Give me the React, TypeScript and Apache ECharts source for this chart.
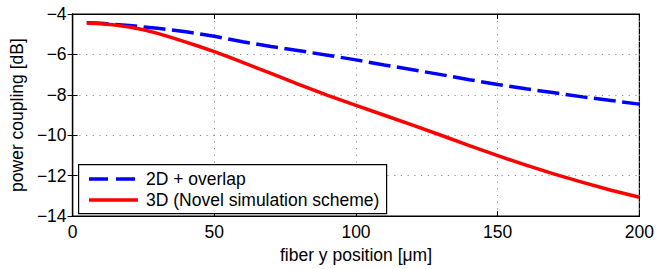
import React, { useEffect, useRef } from "react";
import * as echarts from "echarts";

const xValues2D = [5, 10, 20, 30, 40, 50, 60, 70, 80, 90, 100, 110, 120, 130, 140, 150, 160, 170, 180, 190, 200];
const series2D = [-4.43, -4.46, -4.57, -4.71, -4.88, -5.1, -5.37, -5.61, -5.82, -6.04, -6.27, -6.52, -6.76, -7.0, -7.25, -7.49, -7.7, -7.9, -8.1, -8.28, -8.46];
const xValues3D = [5, 10, 15, 20, 25, 30, 35, 40, 45, 50, 55, 60, 70, 80, 90, 100, 110, 120, 130, 140, 150, 160, 170, 180, 190, 200];
const series3D = [-4.45, -4.48, -4.55, -4.64, -4.78, -4.96, -5.17, -5.39, -5.62, -5.86, -6.12, -6.39, -6.94, -7.5, -8.03, -8.52, -9.01, -9.5, -10.0, -10.51, -11.01, -11.48, -11.92, -12.33, -12.72, -13.07];
const legendNames = ["2D + overlap", "3D (Novel simulation scheme)"];
const xTitle = "fiber y position [\u03bcm]";
const yTitle = "power coupling [dB]";

const FONT = "'Liberation Sans', Arial, Helvetica, sans-serif";
const FS = 17.5;

export default function App() {
  const ref = useRef<HTMLDivElement>(null);
  useEffect(() => {
    if (!ref.current) return;
    const chart = echarts.init(ref.current, null, { renderer: "svg" });
    const minus = (v: number) => String(v).replace("-", "\u2212");
    const gridLine = { show: true, lineStyle: { color: "#8a8a8a", width: 1, type: [1.2, 5.5] } };
    const tick = { show: true, inside: true, length: 5, lineStyle: { color: "#000", width: 1 } };
    const axisLine = { show: true, lineStyle: { color: "#000", width: 1.2 } };
    chart.setOption({
      animation: false,
      backgroundColor: "#fff",
      textStyle: { fontFamily: FONT },
      grid: { left: 69, right: 14, top: 14, bottom: 47, show: true, borderColor: "#000", borderWidth: 1.2 },
      xAxis: [
        {
          type: "value", min: 0, max: 200, interval: 50, position: "bottom",
          axisLine, axisTick: tick, splitLine: gridLine,
          axisLabel: { color: "#000", fontSize: FS, fontFamily: FONT, margin: 7 },
          name: xTitle, nameLocation: "middle", nameGap: 28,
          nameTextStyle: { color: "#000", fontSize: FS, fontFamily: FONT },
        },
        {
          type: "value", min: 0, max: 200, interval: 50, position: "top",
          axisLine, axisTick: tick, splitLine: { show: false }, axisLabel: { show: false },
        },
      ],
      yAxis: [
        {
          type: "value", min: -14, max: -4, interval: 2, position: "left",
          axisLine, axisTick: tick, splitLine: gridLine,
          axisLabel: { color: "#000", fontSize: FS, fontFamily: FONT, margin: 6, formatter: minus },
          name: yTitle, nameLocation: "middle", nameGap: 45,
          nameTextStyle: { color: "#000", fontSize: FS, fontFamily: FONT },
        },
        {
          type: "value", min: -14, max: -4, interval: 2, position: "right",
          axisLine, axisTick: tick, splitLine: { show: false }, axisLabel: { show: false },
        },
      ],
      series: [
        {
          name: legendNames[0], type: "line", showSymbol: false, symbol: "none",
          data: xValues2D.map((x, i) => [x, series2D[i]]),
          lineStyle: { color: "#0000ff", width: 3.5, type: [22, 6.5] },
          smooth: false,
        },
        {
          name: legendNames[1], type: "line", showSymbol: false, symbol: "none",
          data: xValues3D.map((x, i) => [x, series3D[i]]),
          lineStyle: { color: "#ff0000", width: 3.5, join: "round" },
          smooth: false,
        },
      ],
      graphic: [
        {
          type: "rect", left: 78, top: 164, z: 10,
          shape: { width: 308, height: 49 },
          style: { fill: "#fff", stroke: "#000", lineWidth: 1.2 },
        },
        {
          type: "line", z: 11,
          shape: { x1: 89, y1: 179, x2: 138, y2: 179 },
          style: { stroke: "#0000ff", lineWidth: 3.5, lineDash: [19, 8] },
        },
        {
          type: "line", z: 11,
          shape: { x1: 89, y1: 200, x2: 138, y2: 200 },
          style: { stroke: "#ff0000", lineWidth: 3.5 },
        },
        {
          type: "text", left: 146, top: 170, z: 11,
          style: { text: legendNames[0], fill: "#000", fontSize: FS, fontFamily: FONT },
        },
        {
          type: "text", left: 146, top: 191, z: 11,
          style: { text: legendNames[1], fill: "#000", fontSize: FS, fontFamily: FONT },
        },
      ],
    });
    return () => chart.dispose();
  }, []);
  return <div ref={ref} style={{ position: "fixed", left: 0, top: 0, width: 657, height: 269 }} />;
}
